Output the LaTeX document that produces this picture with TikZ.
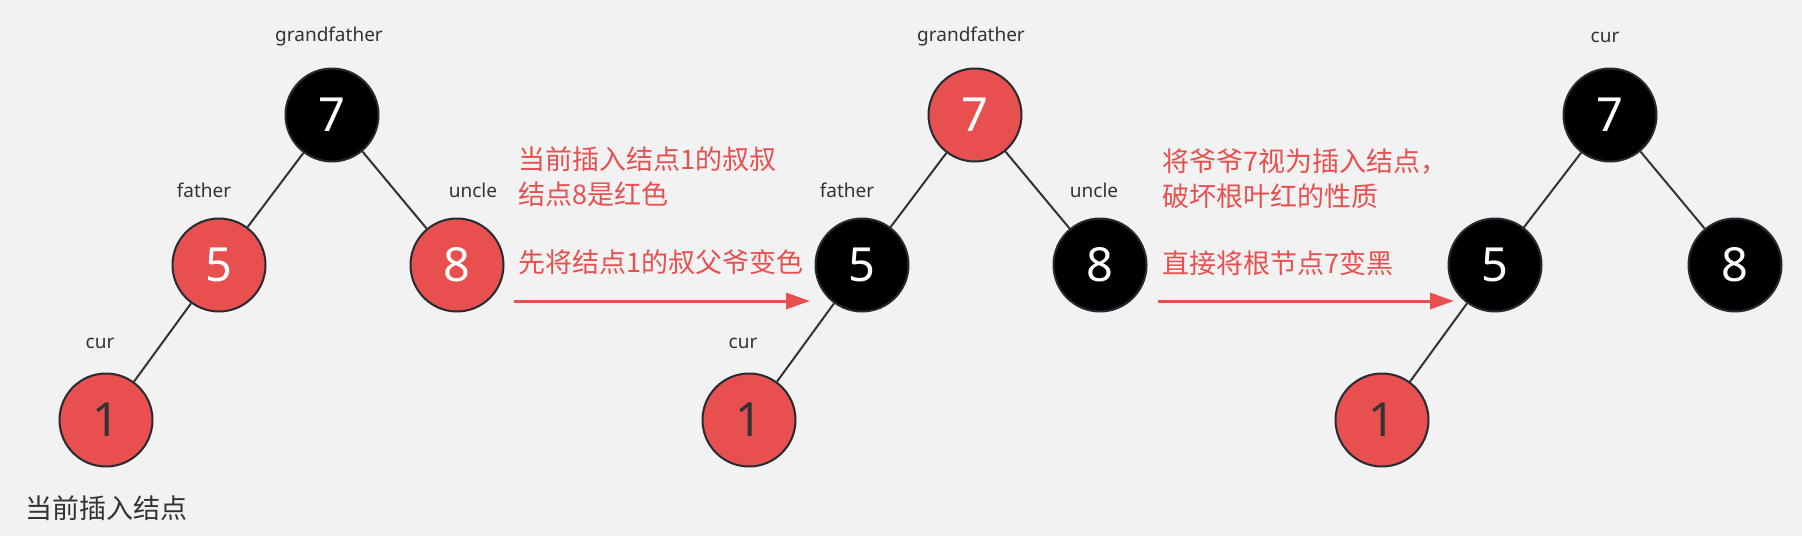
\documentclass[tikz,border=0pt]{standalone}
\usepackage{fontspec}
\setmainfont{Noto Sans}
\newfontfamily\cjkfont{Noto Sans CJK SC}
\usepackage{tikz}
\usetikzlibrary{positioning,arrows.meta}
\usepackage{xcolor}
\definecolor{bgGray}{HTML}{F2F2F2}
\definecolor{rbRed}{HTML}{E85050}
\definecolor{edgeGray}{HTML}{333333}
\definecolor{rimDark}{HTML}{252A30}
\tikzset{
  rbnode/.style={circle,draw=rimDark,line width=2pt,minimum size=93pt,inner sep=0pt,
    font=\fontsize{47}{50}\selectfont},
  rednode/.style={rbnode,fill=rbRed,text=white},
  blacknode/.style={rbnode,fill=black,text=white},
  role/.style={font=\fontsize{19}{22}\selectfont,text=edgeGray},
  note/.style={font=\cjkfont\fontsize{27}{35}\selectfont,text=rbRed,anchor=west,inner sep=0pt,align=left},
  treeedge/.style={draw=edgeGray,line width=2pt},
  steparrow/.style={draw=rbRed,line width=3pt,-{Triangle[length=24pt,width=16pt]}}
}

\begin{document}
\begin{tikzpicture}[x=1pt,y=-1pt]
\fill[bgGray] (0,0) rectangle (1802,536);
\useasboundingbox (0,0) rectangle (1802,536);

% before: uncle 8 is red
\node[blacknode] (a7) at (332,115) {7};
\node[rednode] (a5) at (219,265) {5};
\node[rednode] (a8) at (457,265) {8};
\node[rednode,text=edgeGray] (a1) at (106,420) {1};
\node[role] (agf) at (329,37) {grandfather};
\node[role] (afa) at (204,190) {father};
\node[role] (aun) at (473,190) {uncle};
\node[role] (acu) at (100,343) {cur};
\node[note,text=edgeGray] (ains) at (25,508) {当前插入结点};

% recolour father, uncle, grandfather
\node[note] (n1) at (518,177) {当前插入结点1的叔叔\\结点8是红色};
\node[note] (n2) at (518,262) {先将结点1的叔父爷变色};
\coordinate (s1) at (514,301);
\coordinate (e1) at (810,301);
\draw[steparrow] (s1) -- (e1);

\node[rednode] (b7) at (975,115) {7};
\node[blacknode] (b5) at (862,265) {5};
\node[blacknode] (b8) at (1100,265) {8};
\node[rednode,text=edgeGray] (b1) at (749,420) {1};
\node[role] (bgf) at (971,37) {grandfather};
\node[role] (bfa) at (847,190) {father};
\node[role] (bun) at (1094,190) {uncle};
\node[role] (bcu) at (743,343) {cur};

% root must be black
\node[note] (n3) at (1162,179) {将爷爷7视为插入结点，\\破坏根叶红的性质};
\node[note] (n4) at (1162,263) {直接将根节点7变黑};
\coordinate (s2) at (1158,301);
\coordinate (e2) at (1454,301);
\draw[steparrow] (s2) -- (e2);

\node[blacknode] (c7) at (1610,115) {7};
\node[blacknode] (c5) at (1495,265) {5};
\node[blacknode] (c8) at (1735,265) {8};
\node[rednode,text=edgeGray] (c1) at (1382,420) {1};
\node[role] (ccu) at (1605,37) {cur};

\foreach \t in {a,b,c}{
  \draw[treeedge] (\t7) -- (\t5);
  \draw[treeedge] (\t7) -- (\t8);
  \draw[treeedge] (\t5) -- (\t1);
}
\end{tikzpicture}
\end{document}
